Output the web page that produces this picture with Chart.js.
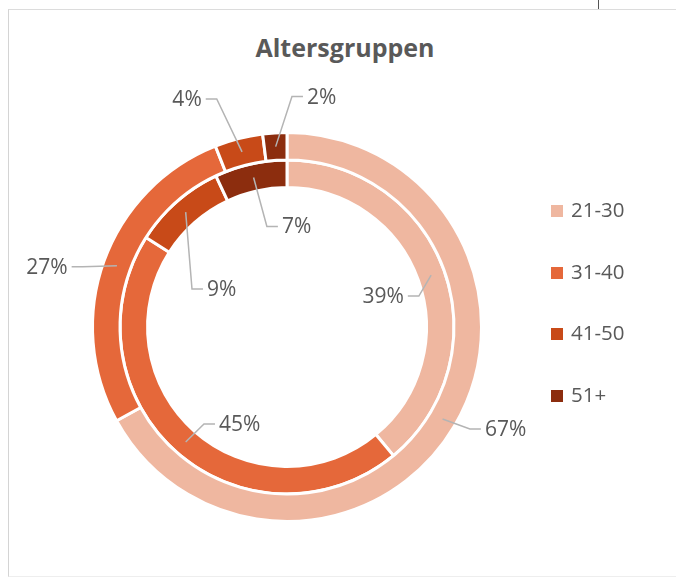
<!DOCTYPE html>
<html>
<head>
<meta charset="utf-8">
<script src="https://cdn.jsdelivr.net/npm/chart.js@4.4.0/dist/chart.umd.min.js"></script>
<style>
    html, body { margin: 0; padding: 0; background: #fff; }
    body { width: 676px; height: 580px; position: relative; overflow: hidden; font-family: 'Open Sans', 'Noto Sans', sans-serif; }
    #frame { position: absolute; left: 8px; top: 9px; width: 700px; height: 566px; border-left: 1px solid #d4d4d4; border-top: 1px solid #dcdcdc; border-bottom: 1px solid #eeeeee; }
    #tick { position: absolute; left: 598px; top: 0; width: 1px; height: 9px; background: #555; }
    #title { position: absolute; left: 0; width: 690px; top: 30px; text-align: center; font-size: 25px; font-weight: bold; color: #595959; }
    #chart { position: absolute; left: 0; top: 0; }
    #legend { position: absolute; left: 551px; top: 194px; }
    .item { height: 61.5px; display: flex; align-items: flex-start; font-size: 20.5px; color: #595959; line-height: 30px; }
    .box { width: 12px; height: 12px; margin: 11px 8px 0 0; }
</style>
</head>
<body>
<div id="frame"></div>
<div id="tick"></div>
<div id="title">Altersgruppen</div>
<canvas id="chart" width="676" height="580"></canvas>
<div id="legend"></div>
<script>
// ============================================================
// DATA
// ============================================================
const groups = ['21-30', '31-40', '41-50', '51+'];
const outerValues = [67, 27, 4, 2];
const innerValues = [39, 45, 9, 7];
const colors = ['#efb7a0', '#e5683a', '#c84a18', '#8c2d0e'];

// label offsets from the segment centre (text centre), outer ring then inner ring
const labelOffsets = [
    [[63, 11], [-70, 2], [-55, -52], [46, -49]],
    [[-48, 22], [54, -17], [36, 78], [43, 50]]
];

// Legend (HTML)
const legendEl = document.getElementById('legend');
groups.forEach((g, i) => {
    const row = document.createElement('div');
    row.className = 'item';
    row.innerHTML = `<span class="box" style="background:${colors[i]}"></span><span>${g}</span>`;
    legendEl.appendChild(row);
});

// Percent labels with leader lines
const percentLabels = {
    id: 'percentLabels',
    afterDraw(chart) {
        const ctx = chart.ctx;
        ctx.save();
        ctx.font = '21px "Open Sans", "Noto Sans", sans-serif';
        ctx.textAlign = 'center';
        ctx.textBaseline = 'middle';
        chart.data.datasets.forEach((ds, di) => {
            const meta = chart.getDatasetMeta(di);
            meta.data.forEach((arc, i) => {
                const p = arc.getProps(['x', 'y', 'startAngle', 'endAngle', 'innerRadius', 'outerRadius'], true);
                const mid = (p.startAngle + p.endAngle) / 2;
                const r = (p.innerRadius + p.outerRadius) / 2;
                const ax = p.x + Math.cos(mid) * r;
                const ay = p.y + Math.sin(mid) * r;
                const [dx, dy] = labelOffsets[di][i];
                const lx = ax + dx, ly = ay + dy;
                const txt = ds.data[i] + '%';
                const w = ctx.measureText(txt).width;
                const edgeX = dx > 0 ? lx - w / 2 - 4 : lx + w / 2 + 4;
                const elbowX = dx > 0 ? edgeX - 11 : edgeX + 11;
                ctx.strokeStyle = '#b4b4b4';
                ctx.lineWidth = 1.5;
                ctx.beginPath();
                ctx.moveTo(ax, ay);
                ctx.lineTo(elbowX, ly - 1);
                ctx.lineTo(edgeX, ly - 1);
                ctx.stroke();
                ctx.fillStyle = '#595959';
                ctx.fillText(txt, lx, ly);
            });
        });
        ctx.restore();
    }
};

const ctxChart = document.getElementById('chart').getContext('2d');
const chart = new Chart(ctxChart, {
    type: 'doughnut',
    data: {
        labels: groups,
        datasets: [
            { data: outerValues, backgroundColor: colors, borderColor: '#ffffff', borderWidth: 3 },
            { data: innerValues, backgroundColor: colors, borderColor: '#ffffff', borderWidth: 3 }
        ]
    },
    options: {
        responsive: false,
        animation: false,
        cutout: '71.7%',
        layout: { padding: { left: 91, right: 193, top: 131, bottom: 57 } },
        plugins: { legend: { display: false }, tooltip: { enabled: false }, title: { display: false } }
    },
    plugins: [percentLabels]
});
</script>
</body>
</html>
